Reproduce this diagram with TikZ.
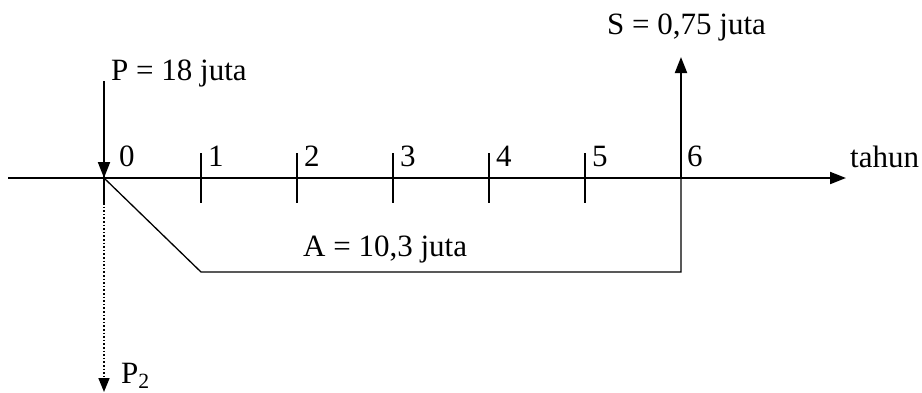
\documentclass[tikz,border=0pt]{standalone}
\usepackage{fontspec}
\setmainfont{Liberation Serif}
\usetikzlibrary{arrows.meta}
\begin{document}
\begin{tikzpicture}[x=1pt,y=-1pt,
  lbl/.style={font=\fontsize{31}{36}\selectfont, inner sep=0pt, anchor=base west},
  axisline/.style={line width=2pt},
  tri/.style={-{Triangle[length=16pt,width=12pt]}},
  tick/.style={line width=1.3pt}]
\useasboundingbox (0,0) rectangle (922,392);
% axis
\coordinate (a0) at (8,178);
\coordinate (aend) at (846,178);
\draw[axisline,tri] (a0) -- (aend);
\node[lbl] (tahun) at (850,167) {tahun};
% ticks
\foreach \i/\x in {1/201,2/297,3/393,4/489,5/585}{
  \coordinate (t\i) at (\x,178);
  \draw[tick] (\x,153) -- (\x,203);
  \node[lbl] (l\i) at (\x+7,166) {\i};
}
\coordinate (t0) at (104,178);
\draw[tick] (104,153) -- (104,203);
\node[lbl] (l0) at (119,166) {0};
\coordinate (t6) at (681,178);
\node[lbl] (l6) at (687,166) {6};
% P arrow
\coordinate (ptop) at (104,81);
\draw[axisline,tri] (ptop) -- (t0);
\node[lbl] (P) at (111,80) {P = 18 juta};
% annuity
\coordinate (b1) at (201,272);
\coordinate (b6) at (681,272);
\draw[tick] (t0) -- (b1) -- (b6) -- (t6);
\node[lbl] (A) at (303,256) {A = 10,3 juta};
% S arrow
\coordinate (stop) at (681,57);
\draw[axisline,tri] (t6) -- (stop);
\node[lbl] (S) at (607,34) {S = 0,75 juta};
% P2
\coordinate (d0) at (104,203);
\coordinate (d1) at (104,392);
\draw[line width=1.6pt,dotted,-{Triangle[length=14pt,width=11pt]}] (d0) -- (d1);
\node[lbl] (P2) at (121,383) {P\textsubscript{2}};
\end{tikzpicture}
\end{document}
